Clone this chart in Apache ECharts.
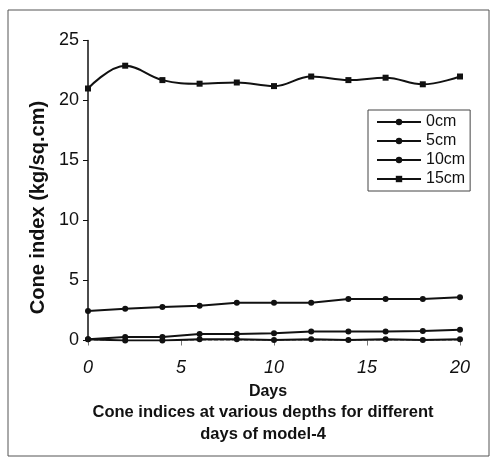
<!DOCTYPE html>
<html>
<head>
<meta charset="utf-8">
<script src="https://cdn.jsdelivr.net/npm/echarts@6/dist/echarts.min.js"></script>
<style>
  html, body { margin: 0; padding: 0; background: #fff; }
  #chart { width: 493px; height: 465px; }
</style>
</head>
<body>
<div id="chart"></div>
<script>
// days on the x axis
const days = [0, 2, 4, 6, 8, 10, 12, 14, 16, 18, 20]

// cone index (kg/sq.cm) per depth
const depth0 = [0.1, 0.0, 0.0, 0.1, 0.1, 0.05, 0.1, 0.05, 0.1, 0.05, 0.1]
const depth5 = [0.1, 0.3, 0.3, 0.55, 0.55, 0.6, 0.75, 0.75, 0.75, 0.8, 0.9]
const depth10 = [2.45, 2.65, 2.8, 2.9, 3.15, 3.15, 3.15, 3.45, 3.45, 3.45, 3.6]
const depth15 = [21.0, 22.9, 21.7, 21.4, 21.5, 21.2, 22.0, 21.7, 21.9, 21.35, 22.0]

const seriesNames = ['0cm', '5cm', '10cm', '15cm']
const xTicks = [0, 5, 10, 15, 20]
const yTicks = [0, 5, 10, 15, 20, 25]
const titleLines = ['Cone indices at various depths for different', 'days of model-4']

const pairs = vals => days.map((d, i) => [d, vals[i]])

const chart = echarts.init(document.getElementById('chart'))

const ink = '#111'
const font = 'Liberation Sans, Arial, sans-serif'

function lineSeries(name, vals, opts) {
  return Object.assign({
    name,
    type: 'line',
    data: pairs(vals),
    symbol: 'circle',
    symbolSize: 6,
    lineStyle: { color: ink, width: 2 },
    itemStyle: { color: ink },
    emphasis: { disabled: true },
  }, opts)
}

chart.setOption({
  animation: false,
  textStyle: { fontFamily: font, color: ink },
  grid: { left: 88, right: 33, top: 40.5, bottom: 124.5 },
  legend: {
    data: seriesNames,
    orient: 'vertical',
    left: 368,
    top: 110,
    itemWidth: 44,
    itemHeight: 8,
    itemGap: 3,
    padding: [4, 5, 4, 8],
    borderColor: '#444',
    borderWidth: 1,
    backgroundColor: '#fff',
    textStyle: { fontSize: 16, color: ink, fontFamily: font },
  },
  xAxis: {
    type: 'value',
    min: 0,
    max: 20,
    interval: 5,
    name: 'Days',
    nameLocation: 'middle',
    nameGap: 43,
    nameTextStyle: { fontSize: 16, fontWeight: 'bold', color: ink, padding: [0, 12, 0, 0] },
    axisLine: { show: true, lineStyle: { color: '#999', width: 1, type: 'dashed' } },
    axisTick: { show: true, length: 5, lineStyle: { color: '#777' } },
    axisLabel: {
      margin: 18, fontSize: 18, fontStyle: 'italic', color: ink,
      formatter: v => xTicks.includes(v) ? String(v) : '',
    },
    splitLine: { show: false },
  },
  yAxis: {
    type: 'value',
    min: 0,
    max: 25,
    interval: 5,
    name: 'Cone index (kg/sq.cm)',
    nameLocation: 'middle',
    nameGap: 39,
    nameTextStyle: { fontSize: 20, fontWeight: 'bold', color: ink, padding: [0, 34, 0, 0] },
    axisLine: { show: true, lineStyle: { color: ink, width: 1.5 } },
    axisTick: { show: true, length: 5, lineStyle: { color: ink } },
    axisLabel: {
      margin: 9, fontSize: 18, color: ink,
      formatter: v => yTicks.includes(v) ? String(v) : '',
    },
    splitLine: { show: false },
  },
  graphic: [
    {
      type: 'rect',
      shape: { x: 8, y: 10, width: 481, height: 446 },
      style: { fill: null, stroke: '#555', lineWidth: 1 },
      silent: true,
    },
  ].concat(titleLines.map((t, i) => ({
    type: 'text',
    x: 263,
    y: 412 + i * 22,
    style: {
      text: t,
      fontSize: 16.5,
      fontWeight: 'bold',
      fontFamily: font,
      fill: ink,
      align: 'center',
      verticalAlign: 'middle',
    },
    silent: true,
  }))),
  series: [
    lineSeries('0cm', depth0),
    lineSeries('5cm', depth5),
    lineSeries('10cm', depth10),
    lineSeries('15cm', depth15, { smooth: 0.4, symbol: 'rect', symbolSize: 6 }),
  ],
})
</script>
</body>
</html>
